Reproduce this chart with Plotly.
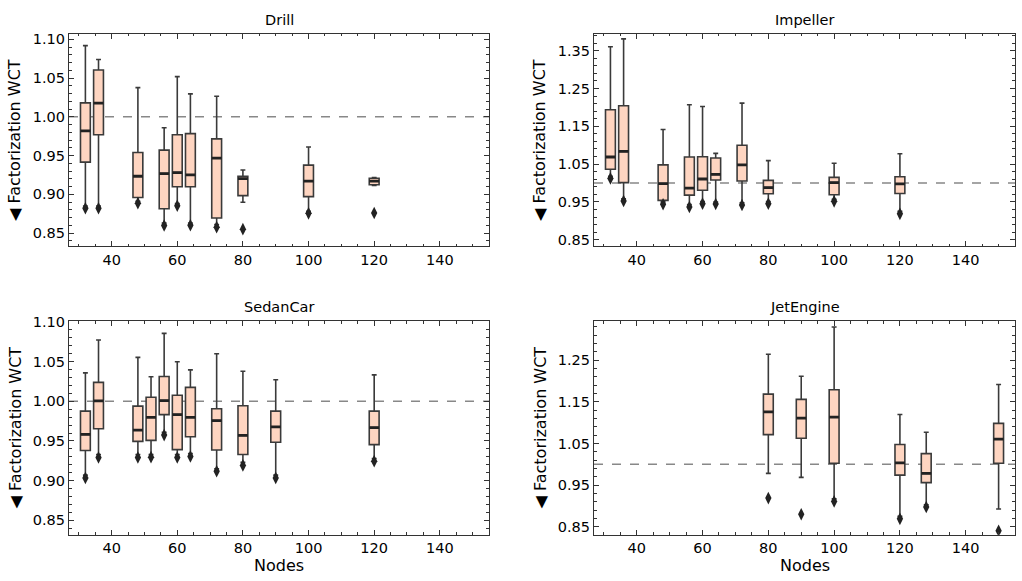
import plotly.graph_objects as go

# ---------------- data ----------------
panel_titles = ["Drill", "Impeller", "SedanCar", "JetEngine"]

drill_pos = [32, 36, 48, 56, 60, 64, 72, 80, 100, 120]
drill_q1 = [0.9415, 0.977, 0.8958, 0.8814, 0.9097, 0.9097, 0.8695, 0.8983, 0.897, 0.9123]
drill_med = [0.982, 1.0178, 0.9233, 0.9267, 0.928, 0.925, 0.9466, 0.9203, 0.917, 0.917]
drill_q3 = [1.018, 1.0606, 0.954, 0.957, 0.977, 0.9784, 0.9716, 0.9233, 0.9377, 0.9208]
drill_lo = [0.885, 0.885, 0.891, 0.863, 0.888, 0.863, 0.861, 0.8898, 0.878, 0.9115]
drill_hi = [1.092, 1.074, 1.0377, 0.986, 1.052, 1.0297, 1.0267, 0.9314, 0.961, 0.9215]
drill_out = [0.882, 0.882, 0.8886, 0.8597, 0.8852, 0.860, 0.8576, 0.855, 0.8754, 0.8758]

imp_pos = [32, 36, 48, 56, 60, 64, 72, 80, 100, 120]
imp_q1 = [1.0366, 1.001, 0.9542, 0.968, 0.981, 1.008, 1.0054, 0.9715, 0.969, 0.9724]
imp_med = [1.0688, 1.0835, 0.9984, 0.9863, 1.0106, 1.0227, 1.048, 0.988, 1.001, 0.9976]
imp_q3 = [1.1938, 1.2042, 1.048, 1.0688, 1.0696, 1.0661, 1.100, 1.0071, 1.015, 1.0167]
imp_lo = [1.018, 0.958, 0.950, 0.943, 0.951, 0.950, 0.948, 0.951, 0.957, 0.925]
imp_hi = [1.3604, 1.381, 1.1417, 1.2068, 1.2024, 1.0783, 1.2111, 1.0592, 1.0523, 1.0774]
imp_out = [1.0123, 0.9524, 0.9438, 0.9368, 0.9455, 0.9446, 0.942, 0.9455, 0.9516, 0.9186]

sedan_pos = [32, 36, 48, 52, 56, 60, 64, 72, 80, 90, 120]
sedan_q1 = [0.9379, 0.9653, 0.9495, 0.9507, 0.9831, 0.9391, 0.9553, 0.9387, 0.9329, 0.9483, 0.9454]
sedan_med = [0.9582, 1.0005, 0.9636, 0.9798, 1.0009, 0.9831, 0.9798, 0.9756, 0.957, 0.9677, 0.9669]
sedan_q3 = [0.9876, 1.0237, 0.9939, 1.005, 1.0312, 1.0075, 1.0175, 0.9905, 0.9943, 0.9876, 0.9876]
sedan_lo = [0.907, 0.933, 0.933, 0.933, 0.961, 0.933, 0.934, 0.915, 0.923, 0.907, 0.928]
sedan_hi = [1.0357, 1.0772, 1.0552, 1.0308, 1.0855, 1.0498, 1.0395, 1.0598, 1.0378, 1.027, 1.0332]
sedan_out = [0.9035, 0.9292, 0.9292, 0.9296, 0.9574, 0.9292, 0.9304, 0.9118, 0.9192, 0.9035, 0.9246]

jet_pos = [80, 90, 100, 120, 128, 150]
jet_q1 = [1.0713, 1.0626, 1.0026, 0.9741, 0.9559, 1.0026]
jet_med = [1.1259, 1.1109, 1.1132, 1.0034, 0.9781, 1.0603]
jet_q3 = [1.1686, 1.1559, 1.1789, 1.0476, 1.0255, 1.0982]
jet_lo = [0.9781, 0.9686, 0.917, 0.875, 0.903, 0.8927]
jet_hi = [1.2642, 1.2113, 1.3298, 1.1196, 1.0769, 1.1915]
jet_out = [0.9188, 0.880, 0.9109, 0.869, 0.8974, 0.8405]

x_ticks = [40, 60, 80, 100, 120, 140]
y_ticks_a = [0.85, 0.90, 0.95, 1.00, 1.05, 1.10]
y_ticks_b = [0.85, 0.95, 1.05, 1.15, 1.25, 1.35]

# ---------------- style ----------------
BOX_W = 3.0
FILL = "#fed5c1"
EDGE = "#3a3a3a"
DARK = "#222222"
FONT = "DejaVu Sans"

panels = [
    (drill_pos, drill_q1, drill_med, drill_q3, drill_lo, drill_hi, drill_out),
    (imp_pos, imp_q1, imp_med, imp_q3, imp_lo, imp_hi, imp_out),
    (sedan_pos, sedan_q1, sedan_med, sedan_q3, sedan_lo, sedan_hi, sedan_out),
    (jet_pos, jet_q1, jet_med, jet_q3, jet_lo, jet_hi, jet_out),
]
y_ranges = [[0.833, 1.1075], [0.833, 1.395], [0.832, 1.101], [0.831, 1.344]]
y_tickvals = [y_ticks_a, y_ticks_b, y_ticks_a, y_ticks_b[:-1]]
y_minor = [0.01, 0.02, 0.01, 0.02]

xdom = [[0.0675, 0.4785], [0.5812, 0.9932]]
ydom = [[0.5818, 0.9535], [0.0775, 0.4510]]

fig = go.Figure()

for i, (pos, q1, med, q3, lo, hi, out) in enumerate(panels):
    xa = "x" if i == 0 else f"x{i+1}"
    ya = "y" if i == 0 else f"y{i+1}"
    fig.add_trace(go.Box(
        x=pos, q1=q1, median=med, q3=q3, lowerfence=lo, upperfence=hi,
        width=BOX_W, whiskerwidth=0.5, boxpoints=False,
        fillcolor=FILL, line=dict(color=EDGE, width=1.6),
        xaxis=xa, yaxis=ya, showlegend=False, hoverinfo="skip",
    ))
    mx, my = [], []
    for p, m in zip(pos, med):
        mx += [p - BOX_W / 2, p + BOX_W / 2, None]
        my += [m, m, None]
    fig.add_trace(go.Scatter(
        x=mx, y=my, mode="lines", line=dict(color=DARK, width=2.8),
        xaxis=xa, yaxis=ya, showlegend=False, hoverinfo="skip",
    ))
    fig.add_trace(go.Scatter(
        x=pos, y=out, mode="markers",
        marker=dict(symbol="diamond-tall", size=9, color=DARK),
        xaxis=xa, yaxis=ya, showlegend=False, hoverinfo="skip",
    ))
    fig.add_shape(type="line", xref=f"{xa} domain", yref=ya, x0=0, x1=1, y0=1.0, y1=1.0,
                  line=dict(color="#888888", width=1.5, dash="dash"), layer="below")

layout = dict(
    width=1022, height=581, margin=dict(l=0, r=0, t=0, b=0),
    paper_bgcolor="white", plot_bgcolor="white",
    font=dict(family=FONT, size=14.5, color="black"),
    showlegend=False, boxmode="overlay",
)
for i in range(4):
    sx = "" if i == 0 else str(i + 1)
    col, row = i % 2, i // 2
    layout[f"xaxis{sx}"] = dict(
        domain=xdom[col], range=[27, 155], autorange=False, anchor=f"y{sx}",
        tickvals=x_ticks, ticks="inside", ticklen=5, tickwidth=1, tickcolor="#333",
        showline=True, linecolor="#333", linewidth=1.2, mirror="allticks",
        showgrid=False, zeroline=False,
        minor=dict(dtick=5, tick0=0, ticks="inside", ticklen=2.5, tickcolor="#333", showgrid=False),
        tickfont=dict(size=14.5),
    )
    layout[f"yaxis{sx}"] = dict(
        domain=ydom[row], range=y_ranges[i], autorange=False, anchor=f"x{sx}",
        tickvals=y_tickvals[i], tickformat=".2f",
        ticks="inside", ticklen=5, tickwidth=1, tickcolor="#333",
        showline=True, linecolor="#333", linewidth=1.2, mirror="allticks",
        showgrid=False, zeroline=False,
        minor=dict(dtick=y_minor[i], tick0=0.85, ticks="inside", ticklen=2.5, tickcolor="#333", showgrid=False),
        tickfont=dict(size=14.5),
    )
fig.update_layout(**layout)

ann = []
title_pos = [(279, 13), (805, 13), (279, 305), (805, 305)]
for t, (px, py) in zip(panel_titles, title_pos):
    ann.append(dict(text=t, x=px / 1022, y=1 - py / 581, xref="paper", yref="paper",
                    showarrow=False, font=dict(size=14.5, family=FONT, color="black"),
                    xanchor="center", yanchor="middle"))
for px, py in [(15, 135), (540, 135), (15, 427), (540, 427)]:
    ann.append(dict(text="◀ Factorization WCT", x=px / 1022, y=1 - py / 581, xref="paper", yref="paper",
                    showarrow=False, textangle=-90, font=dict(size=16, family=FONT, color="black"),
                    xanchor="center", yanchor="middle"))
for px in [279, 805]:
    ann.append(dict(text="Nodes", x=px / 1022, y=1 - 567 / 581, xref="paper", yref="paper",
                    showarrow=False, font=dict(size=16, family=FONT, color="black"),
                    xanchor="center", yanchor="middle"))
fig.update_layout(annotations=ann)

fig.write_html("out.html")
